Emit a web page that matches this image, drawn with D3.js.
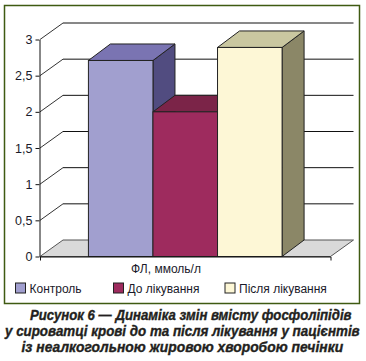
<!DOCTYPE html>
<html>
<head>
<meta charset="utf-8">
<script src="https://cdn.jsdelivr.net/npm/d3@7/dist/d3.min.js"></script>
<style>
  html, body { margin: 0; padding: 0; background: #fff; }
  svg { display: block; }
  text { font-family: "Liberation Sans", Arial, sans-serif; }
</style>
</head>
<body>
<svg id="chart" width="366" height="361"></svg>
<script>
// ---- data ----
const categories = ["ФЛ, ммоль/л"];
const seriesNames = ["Контроль", "До лікування", "Після лікування"];
const seriesValues = [2.71, 2.0, 2.89];
const yTicks = [0, 0.5, 1, 1.5, 2, 2.5, 3];
const yTickLabels = ["0", "0,5", "1", "1,5", "2", "2,5", "3"];
const captionLines = [
  "Рисунок 6 — Динаміка змін вмісту фосфоліпідів",
  "у сироватці крові до та після лікування у пацієнтів",
  "із неалкогольною жировою хворобою печінки"
];

// ---- styles ----
const seriesColors = [
  { front: "#a19fcf", top: "#7a74b2", side: "#514c80" },
  { front: "#9e2b5e", top: "#7b2448", side: "#5e1a38" },
  { front: "#fdf7d6", top: "#c9c7a0", side: "#8b8767" }
];

const svg = d3.select("#chart");

// outer frame
svg.append("rect")
  .attr("x", 4.5).attr("y", 5.5).attr("width", 355).attr("height", 298)
  .attr("fill", "#fff").attr("stroke", "#3f5a12").attr("stroke-width", 1.5);

// scales
const y = d3.scaleLinear().domain([0, 3]).range([256.5, 39.5]);
const x = d3.scaleBand().domain(categories).range([40, 330.5]);
const xs = d3.scaleBand().domain(seriesNames).range([0, x.bandwidth()]).paddingInner(0).paddingOuter(0.75);

const wdx = 23, wdy = -16.5;   // wall depth
const bdx = 22, bdy = -16.5;   // bar depth

const g = svg.append("g");

// floor
const x0 = x.range()[0], x1 = x.range()[1], yb = y(0);
g.append("polygon")
  .attr("points", [[x0, yb], [x0 + wdx, yb + wdy], [x1 + wdx, yb + wdy], [x1, yb]].map(p => p.join(",")).join(" "))
  .attr("fill", "#d9d9d9").attr("stroke", "#555").attr("stroke-width", 1);

// back-wall gridlines and side-wall diagonals
yTicks.forEach(t => {
  if (t === 0) return;
  const yy = y(t);
  g.append("line")
    .attr("x1", x0 + wdx).attr("x2", x1 + wdx)
    .attr("y1", yy + wdy).attr("y2", yy + wdy)
    .attr("stroke", "#111").attr("stroke-width", 1);
  g.append("line")
    .attr("x1", x0).attr("y1", yy)
    .attr("x2", x0 + wdx).attr("y2", yy + wdy)
    .attr("stroke", "#333").attr("stroke-width", 1);
});

// bars
seriesNames.forEach((name, i) => {
  const bx = x(categories[0]) + xs(name);
  const bw = xs.bandwidth();
  const by = y(seriesValues[i]);
  const c = seriesColors[i];
  const bg = g.append("g");
  bg.append("polygon")
    .attr("points", [[bx + bw, by], [bx + bw + bdx, by + bdy], [bx + bw + bdx, yb + bdy], [bx + bw, yb]].map(p => p.join(",")).join(" "))
    .attr("fill", c.side).attr("stroke", "#222").attr("stroke-width", 1).attr("stroke-linejoin", "round");
  bg.append("polygon")
    .attr("points", [[bx, by], [bx + bdx, by + bdy], [bx + bw + bdx, by + bdy], [bx + bw, by]].map(p => p.join(",")).join(" "))
    .attr("fill", c.top).attr("stroke", "#222").attr("stroke-width", 1).attr("stroke-linejoin", "round");
  bg.append("rect")
    .attr("x", bx).attr("y", by).attr("width", bw).attr("height", yb - by)
    .attr("fill", c.front).attr("stroke", "#222").attr("stroke-width", 1);
});

// y axis
const yAxis = d3.axisLeft(y).tickValues(yTicks)
  .tickFormat((d, i) => yTickLabels[i]).tickSizeInner(4).tickSizeOuter(0).tickPadding(3);
const ya = svg.append("g").attr("transform", `translate(${x0 - 0.5},0)`).call(yAxis);
ya.select(".domain").attr("stroke", "#111");
ya.selectAll(".tick line").attr("stroke", "#111");
ya.selectAll(".tick text").attr("font-size", 12.5).attr("fill", "#1a1a2a")
  .attr("font-family", "'Liberation Sans', Arial, sans-serif");

// x axis (front edge of floor)
const xAxis = d3.axisBottom(x).tickFormat(() => "").tickSize(0).tickSizeOuter(4);
const xa = svg.append("g").attr("transform", `translate(0,${yb})`).call(xAxis);
xa.select(".domain").attr("stroke", "#111");
xa.selectAll(".tick").remove();

// category label
svg.append("text")
  .attr("x", 166).attr("y", 273)
  .attr("text-anchor", "middle").attr("font-size", 12).attr("fill", "#1a1a2a")
  .text(categories[0]);

// legend
const legendX = [15.5, 113.5, 225];
seriesNames.forEach((name, i) => {
  svg.append("rect")
    .attr("x", legendX[i]).attr("y", 283).attr("width", 10).attr("height", 10)
    .attr("fill", seriesColors[i].front).attr("stroke", "#222").attr("stroke-width", 1);
  svg.append("text")
    .attr("x", legendX[i] + 14).attr("y", 292.5)
    .attr("font-size", 12).attr("fill", "#1a1a2a")
    .text(name);
});

// caption (horizontally condensed via scale so its box stays inside the page)
const capPos = [
  { x: 30, w: 322, y: 320 },
  { x: 5, w: 355, y: 336 },
  { x: 21.5, w: 322, y: 351.5 }
];
captionLines.forEach((line, i) => {
  const t = svg.append("text")
    .attr("x", 0).attr("y", 0)
    .attr("font-size", 14).attr("font-weight", "bold").attr("font-style", "italic")
    .attr("fill", "#231f20").attr("stroke", "#231f20").attr("stroke-width", 0.35)
    .text(line);
  const natural = t.node().getComputedTextLength();
  const sx = capPos[i].w / natural;
  t.attr("transform", `translate(${capPos[i].x},${capPos[i].y}) scale(${sx},1)`)
   .attr("stroke-width", 0.35 / Math.sqrt(sx));
});
</script>
</body>
</html>
